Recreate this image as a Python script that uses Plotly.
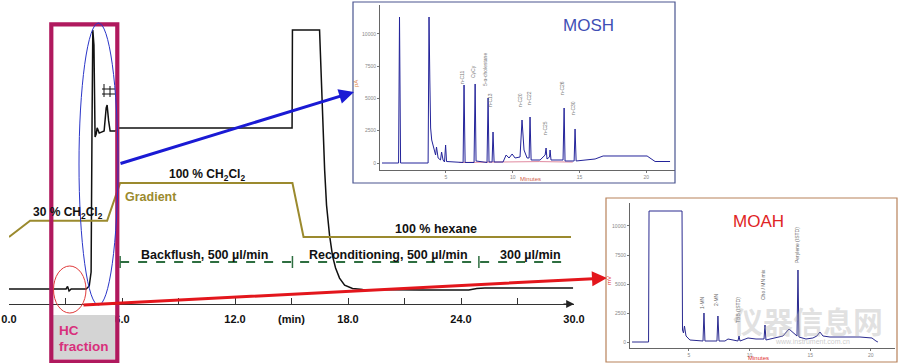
import plotly.graph_objects as go

# ---------------- data ----------------
# main chromatogram (time in min, detector signal in arbitrary %)
main_time = [0.0, 2.71, 3.03, 3.11, 3.19, 3.30, 4.10, 4.26, 4.36, 4.41, 4.45, 4.51, 4.57, 4.63, 4.68,
             4.79, 5.05, 5.16, 5.21, 5.29, 5.37, 5.64, 5.85, 15.03, 15.05, 16.49, 16.65, 16.76, 16.86,
             17.02, 17.18, 17.34, 17.55, 17.82, 18.24, 18.78, 21.86, 24.41, 24.84, 25.27, 29.95]
main_signal = [0, 0, 0, 0.97, -0.77, 0, 0, 1.16, 6.56, 65.3, 100, 94.2, 58.7, 59.8, 62.2,
               60.2, 61.0, 69.9, 71.0, 64.9, 61.0, 61.0, 62.2, 62.2, 100, 100, 67.2, 45.9, 32.4,
               20.8, 12.7, 8.1, 4.2, 1.5, 0.2, -0.2, -0.4, -0.4, 0.2, 0.4, 0.4]

# solvent gradient (% CH2Cl2 in hexane)
grad_time = [0.0, 1.12, 5.21, 5.90, 15.05, 15.64, 29.84]
grad_pct = [0, 30, 30, 100, 100, 0, 0]

# flow program switching times (min)
flow_times = [5.9, 15.05, 24.95, 29.7]
flow_labels = ["Backflush, 500 µl/min", "Reconditioning, 500 µl/min", "300 µl/min"]

# main axis ticks
main_tickvals = [0, 3, 6, 9, 12, 15, 18, 21, 24, 27, 30]
main_ticktext = ["0.0", "3.0", "6.0", "", "12.0", "(min)", "18.0", "", "24.0", "", "30.0"]

# MOSH GC trace
mosh_time = [0.22, 1.46, 1.53, 1.61, 3.67, 3.74, 3.80, 3.86, 3.94, 4.12, 4.23, 4.30, 4.42, 4.60, 4.68,
             4.79, 4.90, 4.98, 5.05, 6.29, 6.36, 6.44, 7.11, 7.19, 7.26, 8.08, 8.16, 8.23, 8.46, 8.53,
             8.61, 9.28, 9.51, 9.73, 9.96, 10.18, 10.55, 10.70, 10.85, 11.08, 11.23, 11.30, 11.38,
             12.05, 12.43, 12.50, 12.57, 12.76, 12.80, 12.87, 13.77, 13.85, 13.92, 14.60, 14.67, 14.75,
             15.64, 16.17, 16.77, 20.06, 20.66, 21.78]
mosh_signal = [0, 0, 11300, 0, 0, 11300, 6424, 2709, 1780, 1006, 619, 1238, 387, 232, 851,
               232, 77, 1393, 116, 39, 6037, 39, 39, 6115, 155, 39, 5031, 77, 77, 2399,
               77, 77, 619, 387, 697, 387, 464, 3328, 1006, 387, 387, 3560, 232,
               232, 619, 1161, 310, 464, 1006, 232, 232, 4257, 155, 155, 2632, 155,
               232, 310, 542, 542, 116, 116]
mosh_blank_time = [6.0, 8.0, 10.0, 12.0, 14.5]
mosh_blank_signal = [40, 60, 90, 110, 70]
mosh_peak_names = ["n-C11", "CyCy", "5-α-cholestane", "n-C13", "n-C20", "n-C22", "n-C25", "n-C26", "n-C30"]

# MOAH GC trace
moah_time = [0.31, 1.67, 1.71, 4.43, 4.47, 4.55, 4.63, 4.76, 5.08, 6.16, 6.24, 6.32, 7.31, 7.39, 7.48,
             7.97, 8.22, 9.04, 9.13, 9.21, 9.87, 10.53, 11.19, 11.27, 11.35, 12.09, 12.75, 13.25,
             13.66, 13.91, 13.99, 14.07, 14.65, 15.22, 15.55, 15.80, 16.05, 16.63, 19.10, 20.09,
             20.42, 20.58]
moah_signal = [0, 0, 11292, 11292, 1034, 776, 1379, 517, 172, 86, 2500, 86, 86, 2241, 86,
               86, 259, 86, 517, 86, 345, 259, 259, 1465, 172, 345, 517, 1121,
               690, 517, 6206, 431, 259, 345, 517, 862, 517, 431, 431, 345,
               86, 0]
moah_peak_names = ["1-MN", "2-MN", "TBB (ISTD)", "Cho / MN mix", "Perylene (ISTD)"]

inset_yticks = [0, 2500, 5000, 7500, 10000]
inset_yticktext = ["0", "2500", "5000", "7500", "10000"]
inset_xticks = [5, 10, 15, 20]

# ---------------- helpers ----------------
W, H = 900, 363
def PX(x):
    return x / W
def PY(y):
    return 1 - y / H

FONT = "Arial, Liberation Sans, sans-serif"
OLIVE = "#9b8a2e"
GREEN = "#2e6e40"

fig = go.Figure()
fig.add_trace(go.Scatter(x=main_time, y=main_signal, mode="lines", xaxis="x", yaxis="y",
                         line=dict(color="#111111", width=1.5), hoverinfo="skip"))
fig.add_trace(go.Scatter(x=grad_time, y=grad_pct, mode="lines", xaxis="x", yaxis="y4",
                         line=dict(color=OLIVE, width=2), hoverinfo="skip"))
fig.add_trace(go.Scatter(x=mosh_blank_time, y=mosh_blank_signal, mode="lines", xaxis="x2", yaxis="y2",
                         line=dict(color="#e08aa0", width=1), hoverinfo="skip"))
fig.add_trace(go.Scatter(x=mosh_time, y=mosh_signal, mode="lines", xaxis="x2", yaxis="y2",
                         line=dict(color="#23239a", width=1), hoverinfo="skip"))
fig.add_trace(go.Scatter(x=moah_time, y=moah_signal, mode="lines", xaxis="x3", yaxis="y3",
                         line=dict(color="#2a2a90", width=1), hoverinfo="skip"))

shapes = []
# inset frames
shapes.append(dict(type="rect", xref="paper", yref="paper", x0=PX(353), x1=PX(675), y0=PY(183), y1=PY(2),
                   line=dict(color="#4a5590", width=1.2), fillcolor="rgba(0,0,0,0)"))
shapes.append(dict(type="rect", xref="paper", yref="paper", x0=PX(606), x1=PX(897), y0=PY(362), y1=PY(198),
                   line=dict(color="#b8825a", width=1.2), fillcolor="rgba(0,0,0,0)"))
# flow program dashed line with switching ticks
shapes.append(dict(type="line", xref="x", yref="paper", x0=flow_times[0], x1=flow_times[-1],
                   y0=PY(262), y1=PY(262), line=dict(color=GREEN, width=1.8, dash="dash")))
for t in flow_times[:-1]:
    shapes.append(dict(type="line", xref="x", yref="paper", x0=t, x1=t, y0=PY(268), y1=PY(256),
                       line=dict(color=GREEN, width=1.5)))
# cut marks
for (x0, y0, x1, y1) in [(104, 84, 104, 97), (110, 86, 110, 97), (102, 89, 115, 89), (102, 94, 115, 94)]:
    shapes.append(dict(type="line", xref="paper", yref="paper", x0=PX(x0), x1=PX(x1), y0=PY(y0), y1=PY(y1),
                       line=dict(color="#111", width=1)))
# HC fraction box
shapes.append(dict(type="rect", xref="paper", yref="paper", x0=PX(53), x1=PX(115.5), y0=PY(359), y1=PY(315),
                   fillcolor="#d4d4d4", line=dict(width=0), layer="above"))
shapes.append(dict(type="rect", xref="paper", yref="paper", x0=PX(51.3), x1=PX(117.3), y0=PY(361.5), y1=PY(24.3),
                   line=dict(color="#b0195e", width=4.2), fillcolor="rgba(0,0,0,0)"))
# ellipses
shapes.append(dict(type="circle", xref="paper", yref="paper", x0=PX(79), x1=PX(118), y0=PY(305), y1=PY(23),
                   line=dict(color="#2a35c8", width=1)))
shapes.append(dict(type="circle", xref="paper", yref="paper", x0=PX(53.5), x1=PX(86), y0=PY(313), y1=PY(266),
                   line=dict(color="#e03a3a", width=1)))

ann = []
def text(x, y, s, size=12, color="#111", bold=True, xanchor="center", family=FONT, angle=0):
    ann.append(dict(x=PX(x), y=PY(y), xref="paper", yref="paper", text=s, showarrow=False,
                    xanchor=xanchor, yanchor="middle", textangle=angle,
                    font=dict(family=family, size=size, color=color, weight="bold" if bold else "normal")))

text(68, 213, "30 % CH<sub>2</sub>Cl<sub>2</sub>", 12)
text(151, 197, "Gradient", 12.5, OLIVE)
text(207, 175, "100 % CH<sub>2</sub>Cl<sub>2</sub>", 12)
text(436, 229, "100 % hexane", 12.5)
text(204, 255, flow_labels[0], 12.5)
text(388, 255, flow_labels[1], 12.5)
text(530, 255, flow_labels[2], 12.5)
text(57, 330, "HC", 13.5, "#d8307c", xanchor="left")
text(57, 346, "fraction", 13.5, "#d8307c", xanchor="left")
text(588, 25, "MOSH", 17, "#3f4fb5", bold=False)
text(758, 221, "MOAH", 17, "#e02424", bold=False)
# inset axis titles
text(356, 84, "pA", 6, "#e08040", bold=False, angle=-90)
text(530, 179, "Minutes", 6, "#d0604a", bold=False)
text(609, 281, "mV", 6, "#e03030", bold=False, angle=-90)
text(758, 358, "Minutes", 6, "#e03030", bold=False)
# inset peak labels
for (x, y), s in zip([(462, 78), (473, 72), (485, 70), (490, 100), (520, 100), (529, 98),
                      (545, 128), (562, 88), (573, 108)], mosh_peak_names):
    text(x, y, s, 5, "#777", bold=False, angle=-90)
for (x, y), s in zip([(702, 303), (716, 300), (738, 310), (763, 285), (797, 245)], moah_peak_names):
    text(x, y, s, 5, "#666", bold=False, angle=-90)
# watermark
text(808, 320, "仪器信息网", 30, "rgba(170,170,170,0.35)", family="Noto Sans CJK SC")
text(812, 341, "www.instrument.com.cn", 7, "rgba(150,150,150,0.5)", bold=False)

# arrows
ann.append(dict(x=PX(354), y=PY(92), xref="paper", yref="paper", ax=-235, ay=72, text="",
                showarrow=True, arrowhead=2, arrowsize=1, arrowwidth=3, arrowcolor="#1a1ad4"))
ann.append(dict(x=PX(607), y=PY(278), xref="paper", yref="paper", ax=-525, ay=27, text="",
                showarrow=True, arrowhead=2, arrowsize=1, arrowwidth=3, arrowcolor="#e3161c"))
ann.append(dict(x=30, y=PY(304), xref="x", yref="paper", ax=-12, ay=0, text="",
                showarrow=True, arrowhead=2, arrowsize=1.3, arrowwidth=1.2, arrowcolor="#222"))

inset_ax = dict(showline=True, linecolor="#666", linewidth=1, ticks="outside", ticklen=2,
                tickcolor="#777", tickfont=dict(size=5, color="#888", family=FONT),
                showgrid=False, zeroline=False)

fig.update_layout(
    width=W, height=H, margin=dict(l=0, r=0, t=0, b=0),
    paper_bgcolor="white", plot_bgcolor="rgba(0,0,0,0)", showlegend=False,
    xaxis=dict(domain=[PX(9), PX(574)], range=[0, 30], anchor="free", position=PY(304),
               showline=True, linecolor="#333", linewidth=1, ticks="inside", ticklen=6, tickcolor="#333",
               tickvals=main_tickvals, ticktext=main_ticktext, ticklabelstandoff=5,
               tickfont=dict(family=FONT, size=11, color="#111", weight="bold"),
               showgrid=False, zeroline=False, automargin=False),
    yaxis=dict(domain=[0, 1], range=[-28.57, 111.58], visible=False),
    yaxis4=dict(overlaying="y", anchor="x", range=[-233.3, 438.9], visible=False),
    xaxis2=dict(domain=[PX(380), PX(675)], range=[0.07, 22.15], anchor="y2", tickvals=inset_xticks, **inset_ax),
    yaxis2=dict(domain=[PY(170), PY(5)], range=[-542, 12229], anchor="x2",
                tickvals=inset_yticks, ticktext=inset_yticktext, **inset_ax),
    xaxis3=dict(domain=[PX(630), PX(895)], range=[0.14, 21.99], anchor="y3", tickvals=inset_xticks, **inset_ax),
    yaxis3=dict(domain=[PY(348), PY(203)], range=[-517, 11982], anchor="x3",
                tickvals=inset_yticks, ticktext=inset_yticktext, **inset_ax),
    shapes=shapes, annotations=ann,
)

fig.write_html("out.html", config={"displayModeBar": False},
               post_script="document.body.style.margin='0';document.body.style.overflow='hidden';")
